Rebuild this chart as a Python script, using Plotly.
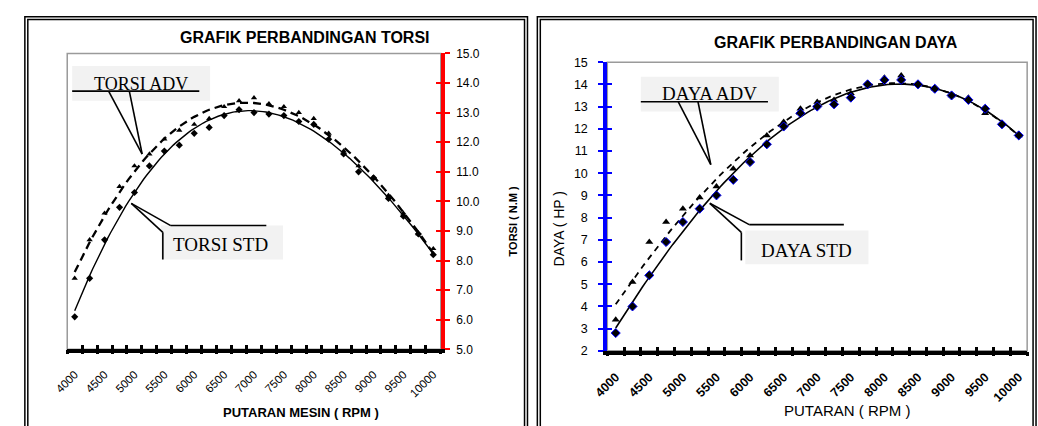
import numpy as np
import plotly.graph_objects as go

# ---------------- data ----------------
rpm = [4000, 4250, 4500, 4750, 5000, 5250, 5500, 5750, 6000, 6250, 6500, 6750, 7000,
       7250, 7500, 7750, 8000, 8250, 8500, 8750, 9000, 9250, 9500, 9750, 10000]
torsi_adv = [7.4, 8.7, 9.6, 10.5, 11.2, 11.6, 12.1, 12.4, 12.6, 12.8, 13.2, 13.4, 13.5,
             13.3, 13.2, 13.0, 12.8, 12.3, 11.7, 11.2, 10.8, 10.2, 9.6, 8.9, 8.4]
torsi_std = [6.1, 7.4, 8.7, 9.8, 10.3, 11.2, 11.7, 11.9, 12.3, 12.5, 12.9, 13.1, 13.0,
             12.95, 12.9, 12.7, 12.6, 12.1, 11.6, 11.0, 10.8, 10.1, 9.5, 8.9, 8.2]
daya_adv = [3.4, 5.1, 6.9, 7.8, 8.4, 8.9, 9.4, 10.2, 10.8, 11.7, 12.3, 12.9, 13.2,
            13.3, 13.6, 14.0, 14.3, 14.4, 14.0, 13.8, 13.5, 13.4, 12.7, 12.2, 11.7]
daya_std = [2.8, 4.0, 5.4, 6.9, 7.8, 8.4, 9.0, 9.7, 10.5, 11.3, 12.1, 12.7, 13.0,
            13.1, 13.4, 14.0, 14.2, 14.2, 14.0, 13.8, 13.5, 13.3, 12.9, 12.2, 11.7]
x_tick_vals = [4000, 4500, 5000, 5500, 6000, 6500, 7000, 7500, 8000, 8500, 9000, 9500, 10000]
x_tick_text = [str(v) for v in x_tick_vals]
# category boundaries (Excel category-axis tick marks)
x_bounds = [3875 + 250 * k for k in range(26)]
torsi_ticks = [5, 6, 7, 8, 9, 10, 11, 12, 13, 14, 15]
daya_ticks = [2, 3, 4, 5, 6, 7, 8, 9, 10, 11, 12, 13, 14, 15]

W, H = 1038, 426
def px(x):
    return x / W
def py(y):
    return 1 - y / H

SANS = "Liberation Sans, Arial, sans-serif"
SERIF = "Liberation Serif, Times New Roman, serif"
X_RANGE = [3875, 10125]


def trend(y, deg=3):
    c = np.polyfit(rpm, y, deg)
    xs = np.linspace(rpm[0], rpm[-1], 121)
    return xs, np.polyval(c, xs)


fig = go.Figure()

# ---- left chart (TORSI) ----
xs, ys = trend(torsi_adv)
fig.add_trace(go.Scatter(x=xs, y=ys, mode="lines", xaxis="x", yaxis="y",
                         line=dict(color="black", width=2.3, dash="8px,5px"), hoverinfo="skip"))
xs, ys = trend(torsi_std)
fig.add_trace(go.Scatter(x=xs, y=ys, mode="lines", xaxis="x", yaxis="y",
                         line=dict(color="black", width=1.4), hoverinfo="skip"))
fig.add_trace(go.Scatter(x=rpm, y=torsi_adv, mode="markers", xaxis="x", yaxis="y",
                         marker=dict(symbol="triangle-up", size=5.5, color="black")))
fig.add_trace(go.Scatter(x=rpm, y=torsi_std, mode="markers", xaxis="x", yaxis="y",
                         marker=dict(symbol="diamond", size=5.5, color="black")))

# ---- right chart (DAYA) ----
xs, ys = trend(daya_adv)
fig.add_trace(go.Scatter(x=xs, y=ys, mode="lines", xaxis="x2", yaxis="y2",
                         line=dict(color="black", width=1.8, dash="6px,5px"), hoverinfo="skip"))
xs, ys = trend(daya_std)
fig.add_trace(go.Scatter(x=xs, y=ys, mode="lines", xaxis="x2", yaxis="y2",
                         line=dict(color="black", width=1.6), hoverinfo="skip"))
fig.add_trace(go.Scatter(x=rpm, y=daya_adv, mode="markers", xaxis="x2", yaxis="y2",
                         marker=dict(symbol="triangle-up", size=7, color="black")))
fig.add_trace(go.Scatter(x=rpm, y=daya_std, mode="markers", xaxis="x2", yaxis="y2",
                         marker=dict(symbol="diamond", size=7, color="black",
                                     line=dict(color="#0000ff", width=1))))

# empty traces so the overlay tick axes are drawn
for xa, ya in [("x3", "y"), ("x4", "y"), ("x", "y3"), ("x5", "y2"), ("x6", "y2"), ("x2", "y4")]:
    fig.add_trace(go.Scatter(x=[], y=[], xaxis=xa, yaxis=ya, mode="markers", hoverinfo="skip"))

L = dict(x0=53, x1=432, y0=48, y1=354)
R = dict(x0=601, x1=1027, y0=57, y1=355.5)

base = dict(showgrid=False, zeroline=False, fixedrange=True)


def tick_axis(over, anchor, side_ticks):
    return dict(base, overlaying=over, anchor=anchor, range=X_RANGE, tickmode="array",
                tickvals=x_bounds, showticklabels=False, showline=False,
                ticks=side_ticks, ticklen=4, tickwidth=3, tickcolor="black")


fig.update_layout(
    width=W, height=H, margin=dict(l=0, r=0, t=0, b=0),
    paper_bgcolor="white", plot_bgcolor="white", showlegend=False,
    font=dict(family=SANS, color="black"),
    # left chart axes
    xaxis=dict(base, domain=[px(L["x0"]), px(L["x1"])], anchor="y", range=X_RANGE,
               tickmode="array", tickvals=x_tick_vals, ticktext=x_tick_text, tickangle=-45,
               ticks="", showline=True, linecolor="black", linewidth=4,
               ticklabelstandoff=10, tickfont=dict(size=11.5, family=SANS)),
    xaxis3=tick_axis("x", "y", "outside"),
    xaxis4=tick_axis("x", "y", "inside"),
    yaxis=dict(base, domain=[py(L["y1"]), py(L["y0"])], anchor="x", side="right",
               range=[5, 15], tickmode="array", tickvals=torsi_ticks, tickformat=".1f",
               showline=True, linecolor="red", linewidth=4,
               ticks="outside", ticklen=5, tickwidth=2, tickcolor="red",
               ticklabelstandoff=4, tickfont=dict(size=12)),
    yaxis3=dict(base, overlaying="y", anchor="x", side="right", range=[5, 15],
                tickmode="array", tickvals=torsi_ticks, showticklabels=False, showline=False,
                ticks="inside", ticklen=5, tickwidth=2, tickcolor="red"),
    # right chart axes
    xaxis2=dict(base, domain=[px(R["x0"]), px(R["x1"])], anchor="y2", range=X_RANGE,
                tickmode="array", tickvals=x_tick_vals,
                ticktext=["<b>%s</b>" % t for t in x_tick_text], tickangle=-45,
                ticks="", showline=True, linecolor="black", linewidth=4,
                ticklabelstandoff=10, tickfont=dict(size=12.5, family=SANS)),
    xaxis5=tick_axis("x2", "y2", "outside"),
    xaxis6=tick_axis("x2", "y2", "inside"),
    yaxis2=dict(base, domain=[py(R["y1"]), py(R["y0"])], anchor="x2", side="left",
                range=[2, 15], tickmode="array", tickvals=daya_ticks,
                showline=True, linecolor="#0000ff", linewidth=4,
                ticks="outside", ticklen=5, tickwidth=2, tickcolor="#0000ff",
                ticklabelstandoff=8, tickfont=dict(size=12.5)),
    yaxis4=dict(base, overlaying="y2", anchor="x2", side="left", range=[2, 15],
                tickmode="array", tickvals=daya_ticks, showticklabels=False, showline=False,
                ticks="inside", ticklen=5, tickwidth=2, tickcolor="#0000ff"),
)

shapes = []
# panel double borders
for (a, b) in [((10, 10, 520, 440), (13, 13, 517, 440)), ((530, 10, 1036, 440), (533, 13, 1033, 440))]:
    for (x0, y0, x1, y1) in (a, b):
        shapes.append(dict(type="rect", xref="paper", yref="paper", x0=px(x0), x1=px(x1),
                           y0=py(y1), y1=py(y0), line=dict(color="black", width=1.5),
                           layer="below"))
# gray plot frames
for P in (L, R):
    shapes.append(dict(type="rect", xref="paper", yref="paper", x0=px(P["x0"]), x1=px(P["x1"]),
                       y0=py(P["y1"]), y1=py(P["y0"]), line=dict(color="#9a9a9a", width=1.5),
                       layer="below"))

# callout boxes (light gray)
boxes = [(58, 61, 198, 97), (148, 226, 272, 261), (635, 72, 775, 108), (741, 231, 866, 266)]
for (x0, y0, x1, y1) in boxes:
    shapes.append(dict(type="rect", xref="paper", yref="paper", x0=px(x0), x1=px(x1),
                       y0=py(y1), y1=py(y0), fillcolor="#f2f2f2", line=dict(width=0),
                       layer="below"))

# callout leader lines
segs = [
    # TORSI ADV
    (58, 87, 187, 87), (95, 87, 129, 152), (116, 87, 129, 152),
    # TORSI STD
    (118, 203, 158, 226), (158, 226, 255, 226), (118, 203, 150, 233), (150, 233, 150, 261),
    # DAYA ADV
    (635, 98, 764, 98), (673, 98, 706, 163), (693, 98, 706, 163),
    # DAYA STD
    (705, 203, 745, 225), (745, 225, 841, 225), (705, 203, 737, 233), (737, 233, 737, 262),
]
for (x0, y0, x1, y1) in segs:
    shapes.append(dict(type="line", xref="paper", yref="paper", x0=px(x0), y0=py(y0),
                       x1=px(x1), y1=py(y1), line=dict(color="black", width=1.6)))
fig.update_layout(shapes=shapes)

ann = []
def text(x, y, s, size, family=SANS, angle=0, bold=False):
    ann.append(dict(x=px(x), y=py(y), xref="paper", yref="paper", showarrow=False,
                    text=("<b>%s</b>" % s) if bold else s, textangle=angle,
                    font=dict(size=size, family=family, color="black"),
                    xanchor="center", yanchor="middle"))

text(294, 32, "GRAFIK PERBANDINGAN TORSI", 16, bold=True)
text(833, 37, "GRAFIK PERBANDINGAN DAYA", 16, bold=True)
text(290, 419, "PUTARAN MESIN ( RPM )", 13, bold=True)
text(844, 417, "PUTARAN ( RPM )", 15)
text(505, 222, "TORSI ( N.M )", 11, angle=-90, bold=True)
text(552, 230, "DAYA ( HP )", 14, angle=-90)
text(128, 80, "TORSI ADV", 18, family=SERIF)
text(209, 246, "TORSI STD", 19, family=SERIF)
text(705, 89, "DAYA ADV", 19, family=SERIF)
text(803, 252, "DAYA STD", 19, family=SERIF)
fig.update_layout(annotations=ann)

fig.write_html("out.html", config={"displayModeBar": False},
               post_script="document.body.style.margin='0px';")
